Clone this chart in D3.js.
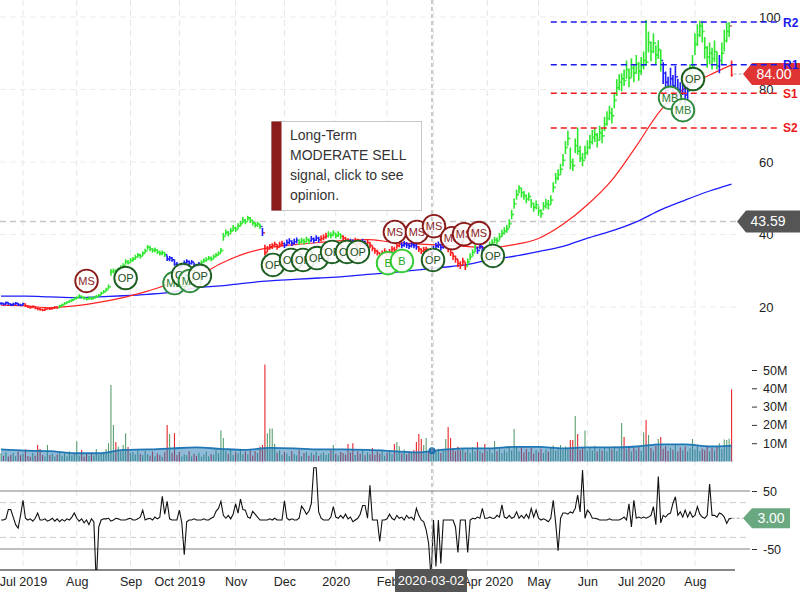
<!DOCTYPE html>
<html><head><meta charset="utf-8">
<script src="https://cdn.jsdelivr.net/npm/d3@7"></script>
<style>body{margin:0;background:#fff;} svg{display:block;font-family:Arial,"Liberation Sans",sans-serif;}</style>
</head><body><svg id="c" width="800" height="600"></svg>
<script>
// ---------- DATA ----------
const monthIdx = [9,31,53,73,96,116,137,158,177,199,220,240,262,284];
const monthLabels = ["Jul 2019","Aug","Sep","Oct 2019","Nov","Dec","2020","Feb","Mar","Apr 2020","May","Jun","Jul 2020","Aug"];
const priceTicks = [20,40,60,80,100];
const volTicks = [10,20,30,40,50];
const oscTicks = [-50,50];
const oscBands = [-30,30];

const closes = [
21.0,20.8,21.2,20.9,20.6,20.8,21.0,20.7,20.5,20.9,
20.3,20.0,19.9,20.1,19.7,19.5,19.3,19.1,19.4,19.6,
19.5,19.7,19.9,19.8,20.3,20.6,21.0,21.3,21.6,21.9,
22.3,22.6,23.0,22.7,22.4,22.2,22.5,22.3,22.6,22.9,
23.2,23.8,24.2,24.8,25.6,29.7,30.0,29.8,30.4,30.9,
31.5,32.5,32.2,32.8,33.2,33.8,34.3,34.0,34.8,35.5,
36.5,36.0,35.6,35.8,35.2,34.8,35.0,34.4,33.2,33.5,
33.0,31.8,31.6,31.0,31.5,32.2,32.6,32.0,32.4,31.5,
31.2,31.8,32.3,32.8,33.1,33.5,33.2,33.9,34.3,34.8,
35.6,39.5,40.6,40.2,41.0,41.8,41.4,42.3,43.0,44.0,
43.5,44.6,44.0,43.2,42.6,42.9,42.2,40.5,35.0,36.0,
36.6,37.0,37.3,36.5,37.2,37.5,37.0,37.8,38.2,37.6,
38.0,38.4,37.9,38.3,38.0,38.6,38.2,38.8,38.4,39.0,
38.6,38.9,39.2,39.6,40.0,39.8,40.3,39.7,40.1,39.5,
39.0,38.5,38.3,38.0,37.8,38.3,38.0,37.6,38.0,37.5,
37.8,37.0,36.2,35.5,35.0,34.2,34.8,35.4,34.6,35.2,
36.0,35.8,36.9,37.3,37.0,37.4,37.1,36.8,37.2,37.0,
36.6,36.0,35.4,35.8,36.0,34.8,35.3,36.0,36.8,37.2,
36.5,37.0,37.4,36.0,35.0,34.0,33.2,32.0,31.5,32.6,
31.2,32.4,33.8,35.0,36.2,35.6,36.8,35.8,35.4,36.0,
37.0,37.8,38.5,38.2,39.4,40.3,41.0,41.5,43.0,45.5,
48.5,51.0,52.8,51.5,50.8,49.8,50.5,48.6,47.5,48.2,
46.5,45.8,47.8,48.5,48.2,49.5,53.0,55.5,56.5,58.0,
60.5,64.0,66.5,60.0,59.0,64.5,63.0,61.0,60.5,62.5,
64.0,65.5,66.8,67.5,66.0,68.0,67.2,70.5,72.0,73.5,
72.8,77.0,80.5,82.0,83.0,82.5,85.5,83.2,86.0,84.5,
87.0,85.0,86.5,88.0,87.5,93.0,90.5,92.8,89.5,91.0,
88.0,84.5,82.0,80.5,83.0,81.0,83.5,80.0,79.0,81.5,
78.5,79.5,84.0,86.5,92.5,95.0,97.5,96.0,91.5,89.0,
90.0,88.5,90.5,86.5,88.0,90.0,93.5,96.0,97.5,84.0];

const highs = [
21.3,21.2,21.5,21.3,21.0,21.2,21.4,21.1,20.9,21.2,
20.9,20.5,20.3,20.4,20.2,19.9,19.8,19.6,19.8,19.9,
19.9,20.0,20.2,20.2,20.6,21.0,21.4,21.6,22.0,22.3,
22.7,23.0,23.5,23.2,22.9,22.6,22.9,22.8,23.0,23.3,
23.6,24.2,24.7,25.3,26.2,30.5,30.6,30.4,30.9,31.5,
32.1,33.2,33.0,33.5,33.8,34.4,34.9,34.7,35.4,36.1,
37.1,36.8,36.3,36.4,35.9,35.5,35.6,35.1,34.2,34.1,
33.8,33.1,32.4,31.9,32.2,32.8,33.2,32.8,33.0,32.3,
31.9,32.4,32.9,33.4,33.7,34.1,33.9,34.5,34.9,35.4,
36.3,40.4,41.4,41.0,41.8,42.6,42.2,43.1,43.8,44.8,
44.3,45.2,44.8,44.0,43.4,43.6,43.0,41.8,37.2,36.8,
37.4,37.6,38.0,37.3,38.0,38.3,37.8,38.6,39.0,38.4,
38.8,39.2,38.7,39.1,38.8,39.4,39.0,39.6,39.2,39.8,
39.4,39.7,40.0,40.5,40.9,40.6,41.2,40.5,40.9,40.3,
39.8,39.3,39.0,38.8,38.6,39.1,38.8,38.4,38.8,38.3,
38.6,37.9,37.0,36.3,35.8,35.0,35.6,36.2,35.4,36.0,
36.8,36.6,37.7,38.1,37.8,38.2,37.9,37.6,38.0,37.8,
37.4,36.8,36.2,36.6,36.6,35.7,36.2,36.9,37.7,38.1,
37.4,37.9,38.0,36.9,35.9,35.0,34.2,33.2,32.6,33.6,
32.4,33.4,34.8,35.9,37.1,36.6,37.7,36.8,36.4,37.0,
38.0,38.7,39.4,39.2,40.4,41.3,42.0,42.6,44.2,46.8,
49.9,52.4,53.6,52.8,52.0,51.0,51.6,49.8,48.7,49.4,
47.8,47.0,49.0,49.8,49.5,50.8,54.4,57.0,58.0,59.5,
62.2,65.8,68.6,64.0,61.0,66.5,69.5,64.5,62.5,64.5,
66.0,67.5,68.8,69.4,68.0,70.0,69.2,72.5,74.0,75.5,
75.0,79.2,82.8,84.2,84.5,85.5,88.0,85.8,88.6,87.0,
89.5,87.6,89.0,90.5,99.2,96.0,93.2,95.5,92.2,93.6,
91.0,87.5,85.0,83.5,86.0,84.0,86.5,83.0,82.0,84.5,
81.5,82.5,87.0,89.5,95.5,98.0,99.0,98.8,94.5,92.0,
93.0,91.5,93.5,90.5,89.5,93.0,96.5,98.5,98.6,88.0];

const lows = [
20.6,20.4,20.7,20.5,20.3,20.4,20.6,20.3,20.2,20.5,
20.0,19.7,19.5,19.7,19.4,19.1,19.0,18.8,19.0,19.3,
19.2,19.3,19.5,19.5,19.8,20.2,20.6,20.9,21.2,21.5,
21.9,22.2,22.6,22.3,22.0,21.8,22.0,21.9,22.2,22.5,
22.8,23.3,23.8,24.3,25.0,28.6,29.3,29.2,29.8,30.3,
30.9,31.8,31.7,32.2,32.5,33.1,33.6,33.4,34.1,34.8,
35.8,35.4,35.0,35.1,34.6,34.2,34.3,33.8,32.7,32.6,
32.5,31.4,31.0,30.3,30.8,31.5,31.9,31.4,31.7,30.9,
30.6,31.1,31.7,32.2,32.5,32.9,32.6,33.3,33.7,34.2,
34.9,38.3,39.8,39.5,40.2,41.0,40.7,41.5,42.2,43.2,
42.8,43.8,43.2,42.5,41.9,42.1,41.5,39.6,34.2,35.2,
35.8,36.0,36.5,35.8,36.4,36.7,36.3,37.0,37.4,36.8,
37.2,37.6,37.1,37.5,37.2,37.8,37.4,38.0,37.6,38.2,
37.8,38.1,38.4,38.8,39.2,39.0,39.5,38.9,39.3,38.7,
38.2,37.7,37.6,37.3,37.0,37.5,37.2,36.8,37.2,36.7,
37.0,36.2,35.4,34.7,34.2,33.4,34.0,34.6,33.8,34.4,
35.2,35.1,36.1,36.5,36.2,36.6,36.3,36.0,36.4,36.2,
35.8,35.2,34.6,35.0,34.9,33.9,34.4,35.1,35.9,36.3,
35.6,36.1,36.2,35.1,34.1,33.0,32.2,31.0,30.5,31.6,
30.2,31.4,32.8,34.0,35.2,34.7,35.9,34.9,34.5,35.1,
36.1,36.9,37.6,37.3,38.4,39.3,40.0,40.5,41.8,44.2,
47.1,49.6,51.4,50.2,49.6,48.6,49.3,47.4,46.3,47.0,
45.2,44.6,46.6,47.2,46.9,48.2,51.6,54.0,55.0,56.5,
58.8,62.2,64.5,58.0,57.5,62.5,62.0,60.0,58.8,60.8,
62.0,63.5,64.8,65.5,64.0,66.0,65.2,68.5,70.0,71.5,
70.6,74.8,78.2,79.8,79.5,81.0,83.0,80.6,83.4,82.0,
84.4,82.4,84.0,85.5,86.5,90.2,87.8,90.0,86.8,88.4,
85.0,81.5,79.0,77.5,80.0,78.0,80.5,77.2,76.2,78.5,
75.8,76.8,81.0,83.5,89.5,92.0,94.5,93.0,88.5,86.0,
87.0,85.5,87.5,85.5,84.5,87.0,90.5,93.0,94.5,83.5];

// trend state per bar as runs: G = bullish, B = neutral, R = bearish
const trendRuns = [["B",10],["R",14],["G",44],["B",14],["G",25],["B",1],["R",8],["B",6],["G",5],["B",4],["R",3],["G",6],["R",3],["B",2],["R",3],["B",2],["R",14],["B",7],["R",6],["B",6],["R",8],["G",4],["B",3],["G",73],["B",11],["G",12],["B",1],["G",4],["R",1]];

const volumes = [
4.5,3.2,5.0,2.8,3.6,4.8,3.0,5.5,3.4,4.2,
6.5,3.0,2.6,4.8,3.2,9.0,6.8,3.5,2.8,9.0,
3.6,4.4,2.7,3.8,5.2,3.1,4.6,2.9,5.6,3.4,
4.0,11.0,3.2,6.3,2.8,4.5,3.0,4.9,3.3,6.8,
3.6,4.2,5.0,6.8,10.0,41.8,20.0,10.6,8.0,5.5,
9.0,15.5,7.9,4.6,5.2,3.8,6.0,4.2,3.5,5.8,
4.0,3.2,5.4,2.9,4.4,3.6,2.6,5.1,20.0,15.0,
4.8,15.5,3.6,5.2,2.8,4.0,3.4,5.6,2.7,4.3,
3.1,4.9,2.6,3.8,5.3,2.9,4.1,3.5,6.2,4.5,
17.0,12.8,5.8,4.2,6.6,3.6,5.0,4.4,6.9,3.9,
5.4,4.0,6.2,3.3,5.7,4.6,8.0,9.0,53.0,15.5,
18.0,18.0,9.5,4.8,6.0,3.6,5.2,4.4,3.0,5.8,
4.1,3.4,6.1,2.9,4.6,5.3,3.2,4.8,3.7,5.5,
3.0,4.3,5.0,3.6,4.4,6.0,9.0,4.1,3.3,5.2,
4.6,3.8,9.6,4.9,10.0,3.5,5.6,4.2,6.4,3.4,
5.1,4.0,7.4,3.7,5.5,4.3,6.1,3.2,4.8,5.6,
3.9,9.5,10.6,8.4,4.5,6.6,3.8,5.4,4.6,6.3,
10.6,15.0,12.3,9.0,12.8,5.2,6.8,4.4,5.8,7.0,
4.8,6.4,12.3,18.8,12.8,7.2,5.6,8.0,6.2,7.4,
5.0,6.6,4.6,7.8,5.4,10.6,6.0,4.8,9.6,5.8,
6.8,4.5,11.2,5.6,7.2,4.6,6.3,5.0,7.6,6.0,
17.7,7.8,5.6,8.0,4.9,6.8,5.3,7.4,4.4,6.2,
5.0,7.0,4.6,6.6,5.4,7.8,8.8,6.0,7.2,9.0,
6.4,8.2,7.0,11.7,11.7,24.8,15.0,6.4,7.8,17.0,
5.8,7.4,6.2,8.6,5.4,7.0,6.0,8.0,5.6,7.6,
6.6,8.4,5.8,7.2,21.0,13.4,6.8,8.2,5.4,7.6,
6.2,8.0,5.6,16.0,22.7,14.5,7.4,6.0,8.6,12.3,
13.4,7.0,8.4,5.8,7.6,6.4,9.0,5.6,7.8,6.2,
8.2,5.4,7.2,12.3,6.6,8.4,5.8,7.0,6.2,8.8,
5.6,7.4,6.0,8.0,10.0,6.8,12.0,11.7,12.5,39.5];

const osc = [
0,0,2,18,18,5,-8,-14,8,34,
3,0,2,-2,3,12,0,0,2,-2,
0,3,-2,2,-3,1,-2,2,0,5,
12,3,-2,2,-5,0,-8,2,-3,-110,
-12,0,2,2,3,-2,0,3,2,0,
0,0,2,3,0,0,2,5,17,0,
2,3,0,5,2,5,41,10,32,2,
0,0,0,17,-5,-60,-3,0,0,2,
0,0,0,2,0,0,3,5,15,20,
32,8,3,8,2,10,28,12,36,18,
17,5,3,15,10,5,0,0,0,0,
2,0,3,0,0,0,33,3,0,2,
0,0,3,24,18,10,15,28,90,90,
14,3,0,0,0,5,23,5,3,8,
3,10,2,5,-3,0,3,10,25,25,
3,60,0,0,0,-37,0,0,2,10,
3,0,8,3,5,0,8,3,5,0,
20,8,0,-3,-17,-40,-100,0,-80,0,
-75,0,0,0,0,0,-12,-56,0,0,
0,-56,0,3,2,5,3,20,3,3,
5,3,3,8,5,26,5,3,8,3,
5,14,3,8,3,10,3,20,5,17,
3,0,2,0,-3,3,34,-5,-53,3,
12,12,10,14,12,20,43,14,86,3,
17,12,3,3,2,0,0,0,0,2,
0,0,0,0,2,5,0,28,-12,34,
3,5,3,5,3,5,8,23,-8,75,
-5,8,5,10,12,29,40,8,14,5,
17,5,14,5,8,23,10,5,3,8,
62,8,8,5,12,10,5,-6,2,3];

// moving averages read every 10 bars
const maIdx = [0,10,20,30,40,50,60,70,80,90,100,110,120,130,140,150,160,170,180,190,200,210,220,230,240,250,260,270,280,290,299];
const redMA = [20.5,20.3,19.8,20.3,21.3,22.6,24.4,26.5,28.3,32.0,34.8,36.4,37.2,37.8,38.3,38.6,37.9,37.4,37.1,36.7,36.4,37.2,38.9,42.8,48.2,55.0,64.4,74.3,80.4,84.0,86.8];
const blueMA = [23.0,23.0,22.8,22.6,22.8,23.1,23.5,24.1,25.3,25.8,26.6,27.2,27.6,28.0,28.4,29.0,29.5,30.2,30.9,31.6,33.0,34.0,35.3,36.7,39.0,41.0,43.5,46.8,49.5,52.0,53.9];
const volMA = [6.6,5.9,5.7,4.5,4.5,6.3,6.6,7.2,7.7,6.9,6.3,7.4,7.2,6.6,6.6,6.3,5.7,5.0,6.3,7.2,7.2,8.0,8.0,7.2,7.7,7.7,8.2,9.4,9.4,8.2,8.7];

// support / resistance
const levelNames = ["R2","R1","S1","S2"];
const levelValues = [98.6,86.8,79.0,69.4];
const levelKind = ["R","R","S","S"];
const levelStartIdx = 225;

// signal markers
const markerIdx =   [35,51,71,74.5,77.3,81.4,111.3,118.7,123.6,129.3,135.5,141.6,146.1,158.4,161.2,164.1,170.2,176.8,177.2,184.6,189.5,195.6,201.3,273.8,279.1,283.2];
const markerPrice = [27.2,28.0,26.6,28.8,27.2,28.6,31.6,33.0,33.0,33.5,35.2,35.2,35.2,32.1,40.7,32.7,40.7,33.0,42.3,39.0,40.1,40.4,34.1,77.7,74.3,82.9];
const markerLabel = ["MS","OP","MB","OP","MB","OP","OP","OP","OP","OP","OP","OP","OP","B","MS","B","MS","OP","MS","MS","MS","MS","OP","MB","MB","OP"];

const lastPrice = 84.00, lastOsc = 3.00;
const crossIdx = 177, crossPrice = 43.59, crossVol = 5.9, crossDate = "2020-03-02";
const signalText = ["Long-Term","MODERATE SELL","signal, click to see","opinion."];

// ---------- CHART ----------
const svg = d3.select("#c");
const FONT = "Arial, 'Liberation Sans', sans-serif";
const N = closes.length;
const plotRight = 740;
const x = d3.scaleLinear().domain([0, 299]).range([1, 731.6]);
const yP = d3.scaleLinear().domain([20, 100]).range([307, 17]);
const yV = d3.scaleLinear().domain([0, 50]).range([461.5, 370]);
const yO = d3.scaleLinear().domain([-50, 50]).range([549, 491]);
const trend = trendRuns.flatMap(([c, n]) => Array(n).fill(c));
const trendColor = {G:"#2ee82e", B:"#1c1cff", R:"#ff1c1c"};

svg.append("defs").append("clipPath").attr("id","oscClip")
  .append("rect").attr("x",0).attr("y",462).attr("width",plotRight).attr("height",108);

// grid
svg.append("g").selectAll("line").data(monthIdx).join("line")
  .attr("x1",d=>x(d)).attr("x2",d=>x(d)).attr("y1",0).attr("y2",570)
  .attr("stroke","#e6e6e6").attr("stroke-dasharray","6,4");
svg.append("g").selectAll("line").data(priceTicks).join("line")
  .attr("x1",0).attr("x2",plotRight).attr("y1",d=>yP(d)).attr("y2",d=>yP(d))
  .attr("stroke","#ececec").attr("stroke-dasharray","6,4");

// crosshair horizontal line
svg.append("line").attr("x1",0).attr("x2",737).attr("y1",yP(crossPrice)).attr("y2",yP(crossPrice))
  .attr("stroke","#c8c8c8").attr("stroke-width",1.5).attr("stroke-dasharray","6,4");

// moving averages
const maLine = vals => d3.line().x((d,i)=>x(maIdx[i])).y(d=>yP(d)).curve(d3.curveMonotoneX)(vals);
svg.append("path").attr("d",maLine(blueMA)).attr("fill","none").attr("stroke","#1c1cff").attr("stroke-width",1.3);
svg.append("path").attr("d",maLine(redMA)).attr("fill","none").attr("stroke","#ff2222").attr("stroke-width",1.2);

// OHLC bars
svg.append("g").selectAll("path").data(d3.range(N)).join("path")
  .attr("d", i => {
    const xi = x(i), o = i ? closes[i-1] : closes[i];
    return `M${xi},${yP(highs[i])}V${yP(lows[i])}M${xi-1.3},${yP(o)}H${xi}M${xi},${yP(closes[i])}H${xi+1.3}`;
  })
  .attr("fill","none").attr("stroke", i => trendColor[trend[i]]).attr("stroke-width",1.6);

// markers
const mStyle = {
  MS:{s:"#8b1c1c", t:"#8b1c1c"}, OP:{s:"#1b5e20", t:"#1b4d20"},
  MB:{s:"#2e8b3e", t:"#2e7d32"}, B:{s:"#33cc33", t:"#22aa22"}
};
const mg = svg.append("g").selectAll("g").data(d3.range(markerIdx.length)).join("g")
  .attr("transform", k => `translate(${x(markerIdx[k])},${yP(markerPrice[k])})`);
mg.append("circle").attr("r",11.3).attr("fill","rgba(255,255,255,0.88)")
  .attr("stroke",k=>mStyle[markerLabel[k]].s).attr("stroke-width",1.9);
mg.append("text").attr("text-anchor","middle").attr("dy","0.36em").attr("font-size",11)
  .attr("fill",k=>mStyle[markerLabel[k]].t).text(k=>markerLabel[k]);

// price axis
const pa = svg.append("g").attr("transform","translate(755,0)")
  .call(d3.axisRight(yP).tickValues(priceTicks).tickSize(0).tickPadding(4));
pa.select(".domain").remove();
pa.selectAll("text").attr("font-size",13).attr("fill","#222").attr("font-family",FONT);

// volume
svg.append("g").selectAll("line").data(d3.range(N)).join("line")
  .attr("x1",i=>x(i)).attr("x2",i=>x(i)).attr("y1",yV(0)).attr("y2",i=>yV(volumes[i]))
  .attr("stroke", i => (i>0 && closes[i] < closes[i-1]) ? "#e8262a" : "#5a9e6f").attr("stroke-width",1.1);
const vArea = d3.area().x((d,i)=>x(maIdx[i])).y0(yV(0)).y1(d=>yV(d)).curve(d3.curveMonotoneX);
svg.append("path").attr("d",vArea(volMA)).attr("fill","rgba(31,119,180,0.5)");
const vLine = d3.line().x((d,i)=>x(maIdx[i])).y(d=>yV(d)).curve(d3.curveMonotoneX);
svg.append("path").attr("d",vLine(volMA)).attr("fill","none").attr("stroke","#1f77b4").attr("stroke-width",1.8);
svg.append("circle").attr("cx",x(crossIdx)-1.5).attr("cy",yV(crossVol)).attr("r",3.5).attr("fill","#1f6fb4");
const va = svg.append("g").attr("transform","translate(752,0)")
  .call(d3.axisRight(yV).tickValues(volTicks).tickFormat(d=>d+"M").tickSize(5).tickPadding(6));
va.select(".domain").remove();
va.selectAll("line").attr("stroke","#333");
va.selectAll("text").attr("font-size",12.5).attr("fill","#222").attr("font-family",FONT);

// separator
svg.append("line").attr("x1",0).attr("x2",733).attr("y1",461.5).attr("y2",461.5)
  .attr("stroke","#c9d6e6").attr("stroke-dasharray","1,2");

// oscillator
oscTicks.forEach(v=>svg.append("line").attr("x1",0).attr("x2",750).attr("y1",yO(v)).attr("y2",yO(v)).attr("stroke","#aaa").attr("stroke-width",1.5));
oscBands.forEach(v=>svg.append("line").attr("x1",0).attr("x2",750).attr("y1",yO(v)).attr("y2",yO(v)).attr("stroke","#ccc").attr("stroke-dasharray","6,4"));
svg.append("path").attr("clip-path","url(#oscClip)")
  .attr("d", d3.line().x((d,i)=>x(i)).y(d=>yO(d))(osc))
  .attr("fill","none").attr("stroke","#111").attr("stroke-width",1.1);
const oa = svg.append("g").attr("transform","translate(752,0)")
  .call(d3.axisRight(yO).tickValues(oscTicks).tickFormat(d=>String(d)).tickSize(5).tickPadding(6));
oa.select(".domain").remove();
oa.selectAll("line").attr("stroke","#333");
oa.selectAll("text").attr("font-size",12.5).attr("fill","#222").attr("font-family",FONT);

// crosshair vertical
const cx = x(crossIdx)-1.5;
svg.append("line").attr("x1",cx).attr("x2",cx).attr("y1",0).attr("y2",570)
  .attr("stroke","#999").attr("stroke-dasharray","4,3");

// x axis
svg.append("line").attr("x1",0).attr("x2",735).attr("y1",570).attr("y2",570).attr("stroke","#111").attr("stroke-width",1.2);
const xa = svg.append("g").attr("transform","translate(0,570)")
  .call(d3.axisBottom(x).tickValues(monthIdx).tickFormat((d,i)=>monthLabels[i]).tickSize(0).tickPadding(7));
xa.select(".domain").remove();
xa.selectAll("text").attr("font-size",12.5).attr("fill","#222").attr("font-family",FONT);

// crosshair date box (covers the month label underneath, as in the source)
svg.append("rect").attr("x",cx-37).attr("y",569).attr("width",72).attr("height",23).attr("fill","#555");
svg.append("text").attr("x",cx-1).attr("y",585).attr("text-anchor","middle").attr("fill","#fff").attr("font-size",13).text(crossDate);

// value tags
function tag(y, tipX, color, txt){
  svg.append("path").attr("d",`M${tipX},${y}L${tipX+9},${y-11}H800V${y+11}H${tipX+9}Z`).attr("fill",color);
  svg.append("text").attr("x",tipX+31).attr("y",y+5).attr("text-anchor","middle").attr("fill","#fff")
    .attr("font-size",14).text(txt);
}
svg.append("line").attr("x1",x(N-1)+2).attr("x2",743).attr("y1",yP(lastPrice)-1).attr("y2",yP(lastPrice)-1)
  .attr("stroke","#aaa").attr("stroke-dasharray","3,2");
tag(yP(lastPrice)-1, 743, "#e03434", lastPrice.toFixed(2));
tag(yP(crossPrice), 737, "#555555", crossPrice.toFixed(2));
svg.append("line").attr("x1",x(N-1)).attr("x2",743).attr("y1",yO(lastOsc)).attr("y2",yO(lastOsc))
  .attr("stroke","#aaa").attr("stroke-dasharray","3,2");
svg.append("path").attr("d",`M743,${yO(lastOsc)}L752,${yO(lastOsc)-10}H790V${yO(lastOsc)+10}H752Z`).attr("fill","#6aa880");
svg.append("text").attr("x",771).attr("y",yO(lastOsc)+5).attr("text-anchor","middle").attr("fill","#fff").attr("font-size",14).text(lastOsc.toFixed(2));

// support/resistance (labels drawn above the tags)
const lv = svg.append("g");
levelValues.forEach((v,k)=>{
  const col = levelKind[k]==="R" ? "#1a1aee" : "#ee1a1a";
  lv.append("line").attr("x1",x(levelStartIdx)).attr("x2",780).attr("y1",yP(v)).attr("y2",yP(v))
    .attr("stroke",col).attr("stroke-width",1.5).attr("stroke-dasharray","6,4");
  lv.append("text").attr("x",783).attr("y",yP(v)+4.5).attr("fill",col)
    .attr("font-size",12).attr("font-weight","bold").text(levelNames[k]);
});

// signal box
const sb = svg.append("g");
sb.append("rect").attr("x",271.5).attr("y",121.5).attr("width",150).attr("height",89).attr("fill","#fff").attr("stroke","#c8c8c8");
sb.append("rect").attr("x",271.5).attr("y",121.5).attr("width",10).attr("height",89).attr("fill","#8b1a1a");
sb.selectAll("text.s").data(signalText).join("text").attr("class","s")
  .attr("x",290).attr("y",(d,i)=>140+i*20).attr("font-size",14).attr("fill","#333").text(d=>d);
</script></body></html>
